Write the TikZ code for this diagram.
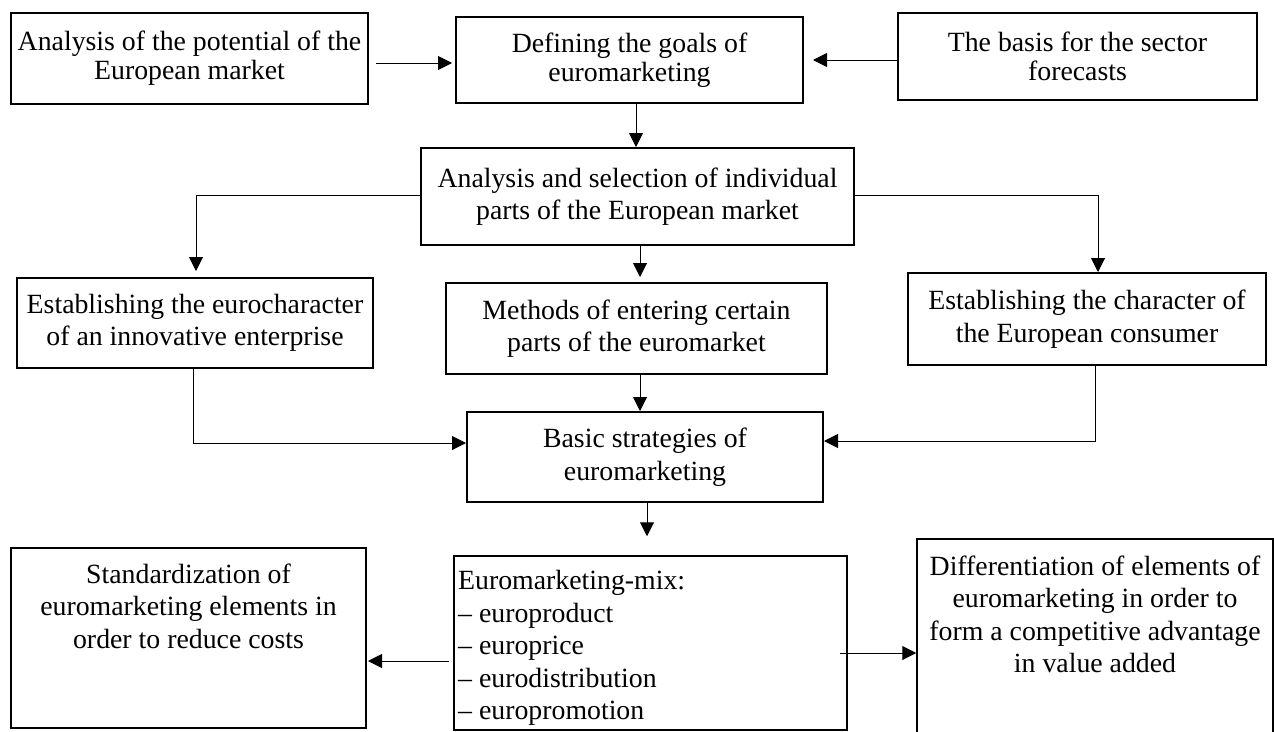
\documentclass[tikz,border=0pt]{standalone}
\usepackage{fontspec}
\setmainfont{Liberation Serif}
\usetikzlibrary{arrows.meta,calc}
\begin{document}
\begin{tikzpicture}[x=1pt,y=-1pt,
  box/.style={draw,line width=2pt,rectangle,inner sep=0pt,align=center,font=\fontsize{27.8}{32.5}\selectfont},
  topbox/.style={box,font=\fontsize{27.8}{29}\selectfont},
  txt/.style={inner sep=0pt,font=\fontsize{27.8}{32.5}\selectfont},
  arr/.style={line width=1pt,-{Triangle[length=14pt,width=14pt]}}
]
\useasboundingbox (0,0) rectangle (1274,731);
\clip (0,0) rectangle (1274,731);
\fill[white] (0,0) rectangle (1274,731);

% top row
\node[topbox,minimum width=357pt,minimum height=91pt] (b1) at (189.5,58.5) {Analysis of the potential of the\\European market};
\node[topbox,minimum width=347pt,minimum height=86pt] (b2) at (629.5,60) {Defining the goals of\\euromarketing};
\node[topbox,minimum width=359pt,minimum height=87pt] (b3) at (1077.5,56.5) {The basis for the sector\\forecasts};

\node[box,minimum width=433pt,minimum height=97pt] (b4) at (637.5,196.5) {Analysis and selection of individual\\parts of the European market\rule[-6pt]{0pt}{1pt}};

\node[box,minimum width=356pt,minimum height=90pt] (b5) at (195,323) {Establishing the eurocharacter\\of an innovative enterprise};
\node[box,minimum width=381pt,minimum height=91pt] (b6) at (636.5,328.5) {Methods of entering certain\\parts of the euromarket};
\node[box,minimum width=358pt,minimum height=92pt] (b8) at (1087,319) {Establishing the character of\\the European consumer};

\node[box,minimum width=356pt,minimum height=90pt] (b7) at (645,457) {Basic strategies of\\euromarketing};

% bottom row
\node[box,minimum width=355pt,minimum height=180pt] (b9) at (188.5,638) {};
\node[txt,anchor=north,align=center] (t9) at (188.5,563.5) {Standardization of\\euromarketing elements in\\order to reduce costs};
\node[box,line width=1.5pt,minimum width=393pt,minimum height=174pt] (b10) at (650.5,643) {};
\node[txt,anchor=north west,align=left] (t10) at (458,570.5) {Euromarketing-mix:\\– europroduct\\– europrice\\– eurodistribution\\– europromotion};
\node[box,line width=1.5pt,minimum width=356pt,minimum height=201pt] (b11) at (1095,639.5) {};
\node[txt,anchor=north,align=center] (t11) at (1095,555.5) {Differentiation of elements of\\euromarketing in order to\\form a competitive advantage\\in value added};

% connectors
\draw[arr] ($(b1.east)+(7,4.5)$) -- ($(b2.west)+(-3,3)$);
\draw[arr] ($(b3.west)+(0,3.5)$) -- ($(b2.east)+(9,0)$);
\draw[arr] ($(b2.south)+(6.5,0)$) -- ($(b4.north)+(-1.5,0)$);
\draw[arr] ($(b4.west)+(0,-1.5)$) -| ($(b5.north)+(1,-6)$);
\draw[arr] ($(b4.south)+(2.5,0)$) -- ($(b6.north)+(3.5,-5)$);
\draw[arr] ($(b4.east)+(0,-1.5)$) -| ($(b8.north)+(11,0)$);
\draw[arr] ($(b6.south)+(3.5,0)$) -- ($(b7.north)+(-5,0)$);
\draw[arr] ($(b5.south)+(-2,0)$) |- ($(b7.west)+(0,-14)$);
\draw[arr] ($(b8.south)+(8,0)$) |- ($(b7.east)+(0,-16)$);
\draw[arr] ($(b7.south)+(2,0)$) -- ($(b10.north)+(-3.5,-19)$);
\draw[arr] ($(b10.west)+(-4,18)$) -- ($(b9.east)+(1,23)$);
\draw[arr] ($(b10.east)+(-8,10)$) -- ($(b11.west)+(0,13.5)$);
\end{tikzpicture}
\end{document}
